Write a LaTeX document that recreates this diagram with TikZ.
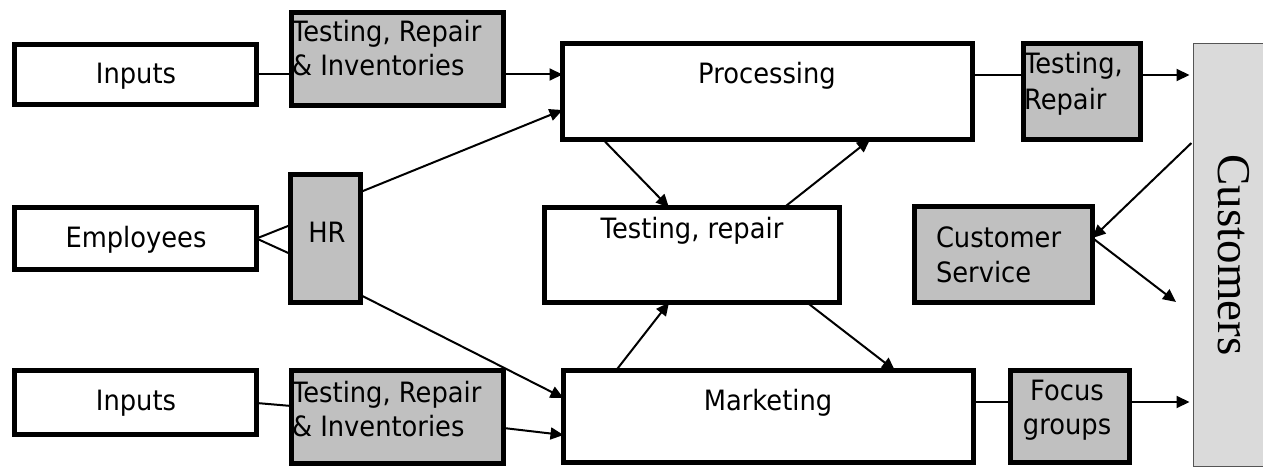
\documentclass[tikz,border=0pt]{standalone}
\usepackage{fontspec}
\setmainfont{DejaVu Sans}[FakeStretch=0.92]
\newfontfamily\custfont{Liberation Serif}
\usetikzlibrary{arrows.meta,calc}
\definecolor{boxgray}{HTML}{C0C0C0}
\definecolor{custgray}{HTML}{DADADA}
\definecolor{custedge}{HTML}{555555}

\begin{document}
\begin{tikzpicture}[x=1pt,y=-1pt,
  box/.style={draw,line width=5pt,fill=white,inner sep=0pt,outer sep=0pt},
  graybox/.style={box,fill=boxgray},
  lbl/.style={inner sep=0pt,outer sep=0pt,font=\fontsize{28}{34}\selectfont},
  link/.style={line width=2pt},
  arr/.style={link,-{Triangle[length=13pt,width=12pt]}},
]
\clip (0,0) rectangle (1263,468);
\useasboundingbox (0,0) rectangle (1263,468);

% boxes
\node[box,minimum width=242pt,minimum height=60pt] (inA) at (135.5,74.5) {};
\node[graybox,minimum width=212pt,minimum height=93pt] (trA) at (397.5,59) {};
\node[box,minimum width=410pt,minimum height=96pt] (proc) at (767.5,91.5) {};
\node[graybox,minimum width=117pt,minimum height=96pt] (trB) at (1082,91.5) {};
\node[box,minimum width=242pt,minimum height=62pt] (emp) at (135.5,238.5) {};
\node[graybox,minimum width=70pt,minimum height=128pt] (hr) at (325.5,238.5) {};
\node[box,minimum width=295pt,minimum height=95pt] (mid) at (692,255) {};
\node[graybox,minimum width=178pt,minimum height=96pt] (cs) at (1003.5,254.5) {};
\node[box,minimum width=242pt,minimum height=64pt] (inB) at (135.5,402.5) {};
\node[graybox,minimum width=212pt,minimum height=93pt] (trC) at (397.5,417) {};
\node[box,minimum width=410pt,minimum height=92pt] (mkt) at (768.5,416.5) {};
\node[graybox,minimum width=119pt,minimum height=92pt] (fg) at (1070,416.5) {};
\node[draw=custedge,fill=custgray,line width=1pt,inner sep=0pt,outer sep=0pt,
      minimum width=86pt,minimum height=423pt] (cust) at (1236.5,255) {};

% labels
\node[lbl,anchor=base] (inAt) at (136,84) {Inputs};
\node[lbl,anchor=base west] (trAt1) at (292,42) {Testing, Repair};
\node[lbl,anchor=base west] (trAt2) at (292,76) {\& Inventories};
\node[lbl,anchor=base] (proct) at (767,84) {Processing};
\node[lbl,anchor=base west] (trBt1) at (1024,74) {Testing,};
\node[lbl,anchor=base west] (trBt2) at (1024,110) {Repair};
\node[lbl,anchor=base] (empt) at (136,247) {Employees};
\node[lbl,anchor=base] (hrt) at (327,242) {HR};
\node[lbl,anchor=base] (midt) at (692,238) {Testing, repair};
\node[lbl,anchor=base west] (cst1) at (936,247) {Customer};
\node[lbl,anchor=base west] (cst2) at (936,282) {Service};
\node[lbl,anchor=base] (inBt) at (136,410) {Inputs};
\node[lbl,anchor=base west] (trCt1) at (292,402) {Testing, Repair};
\node[lbl,anchor=base west] (trCt2) at (292,436) {\& Inventories};
\node[lbl,anchor=base] (mktt) at (768,410) {Marketing};
\node[lbl,anchor=base] (fgt1) at (1067,400) {Focus};
\node[lbl,anchor=base] (fgt2) at (1067,434) {groups};
\node[inner sep=0pt,anchor=base,rotate=-90,font=\custfont\fontsize{47}{47}\selectfont]
  (custt) at (1218,255) {Customers};

% connectors
\coordinate (csend) at (1176,302);
\draw[link] (inA.east) -- (trA.west |- inA.east);
\draw[arr] (trA.east |- inA.east) -- (proc.west |- inA.east);
\draw[arr] (hr.east |- 0,192) -- (proc.west |- 0,110);
\draw[arr] (hr.east |- 0,295) -- (mkt.west |- 0,398);
\draw[link] (emp.east) -- (hr.west |- 0,225);
\draw[link] (emp.east) -- (hr.west |- 0,254);
\draw[arr] (proc.south -| 603,0) -- (mid.north -| 669,0);
\draw[arr] (mid.north -| 784,0) -- (proc.south -| 870,0);
\draw[arr] (mkt.north -| 616,0) -- (mid.south -| 669,0);
\draw[arr] (mid.south -| 807,0) -- (mkt.north -| 895,0);
\draw[link] (proc.east |- 0,75) -- (trB.west |- 0,75);
\draw[arr,shorten >=4pt] (trB.east |- 0,75) -- (cust.west |- 0,75);
\draw[arr,shorten <=3pt] (cust.west |- 0,141) -- (cs.east |- 0,238);
\draw[arr] (cs.east |- 0,238) -- (csend);
\draw[link] (mkt.east |- 0,402) -- (fg.west |- 0,402);
\draw[arr,shorten >=4pt] (fg.east |- 0,402) -- (cust.west |- 0,402);
\draw[link] (inB.east |- 0,403) -- (trC.west |- 0,406);
\draw[arr] (trC.east |- 0,428) -- (mkt.west |- 0,435);
\end{tikzpicture}
\end{document}
